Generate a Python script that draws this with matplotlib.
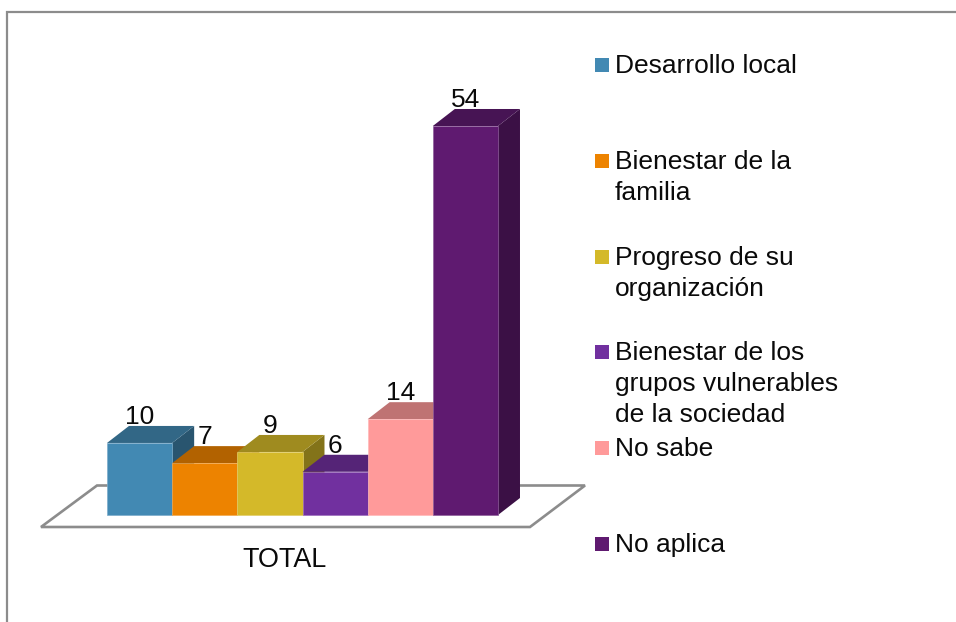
import numpy as np
import matplotlib
matplotlib.use('Agg')
import matplotlib.pyplot as plt

plt.rcParams['font.family'] = ['Liberation Sans', 'DejaVu Sans']

categories = ['Desarrollo local', 'Bienestar de la\nfamilia', 'Progreso de su\norganización',
              'Bienestar de los\ngrupos vulnerables\nde la sociedad', 'No sabe', 'No aplica']
# heights, labels as printed above the bars
bar_heights = [10, 7.2, 8.75, 6, 13.3, 54]
value_labels = ['10', '7', '9', '6', '14', '54']
group_label = 'TOTAL'
colors = ['#4289b3', '#ed8300', '#d4b929', '#71309f', '#ff9a9a', '#5f1a70']

W, H = 956, 622
GRAY = '#8c8c8c'
FS = 19

# depth of the fake 3d bars, in data units
DX = 22 / 65.2
DY = 17 / 7.2


def shade(color, k):
    return tuple(np.array(matplotlib.colors.to_rgb(color)) * k)


def tint(color, k):
    c = np.array(matplotlib.colors.to_rgb(color))
    return tuple(c + (1 - c) * k)


fig = plt.figure(figsize=(W / 100, H / 100), dpi=100, facecolor='white')

# pixel axes for the frame, the floor and the legend
bg = fig.add_axes([0, 0, 1, 1])
bg.set_xlim(0, W)
bg.set_ylim(H, 0)
bg.axis('off')

bg.plot([7.5, 7.5, W], [H, 12, 12], color=GRAY, lw=1.6, solid_joinstyle='miter')
bg.fill([41, 530, 585, 97], [527, 527, 485.5, 485.5], facecolor='white',
        edgecolor=GRAY, lw=1.9)
bg.text(285, 567, group_label, fontsize=FS + 0.4, ha='center', va='baseline', color='#0a0a0a')

# legend, one row every 96 px
for i, (name, col) in enumerate(zip(categories, colors)):
    base = 73 + i * 95.8
    bg.add_patch(plt.Rectangle((595, base - 15), 14, 14, facecolor=col, edgecolor='none'))
    for j, line in enumerate(name.split('\n')):
        bg.text(615, base + j * 31, line, fontsize=FS, ha='left', va='baseline',
                color='#0a0a0a')

# bars axes, x is the bar slot and y the value
ax = fig.add_axes([107 / W, (H - 515) / H, 391 / W, 389 / H])
ax.patch.set_alpha(0)
ax.set_xlim(0, 6)
ax.set_ylim(0, 54)
ax.axis('off')

for i, (v, col, lab) in enumerate(zip(bar_heights, colors, value_labels)):
    x0, x1 = i, i + 1
    ax.fill([x1, x1 + DX, x1 + DX, x1], [0, DY, v + DY, v], color=shade(col, 0.62),
            lw=0, clip_on=False, zorder=2 + i)
    ax.fill([x0, x0 + DX, x1 + DX, x1], [v, v + DY, v + DY, v], color=shade(col, 0.75),
            lw=0, clip_on=False, zorder=2 + i)
    ax.bar(i, v, width=1, align='edge', color=col, edgecolor=tint(col, 0.3), lw=0.5,
           zorder=2 + i, clip_on=False)
    ax.text(i + 0.5, v + DY + 0.3, lab, fontsize=FS, ha='center', va='baseline',
            color='#0a0a0a', zorder=20, clip_on=False)

plt.savefig('out.png', dpi=100)
